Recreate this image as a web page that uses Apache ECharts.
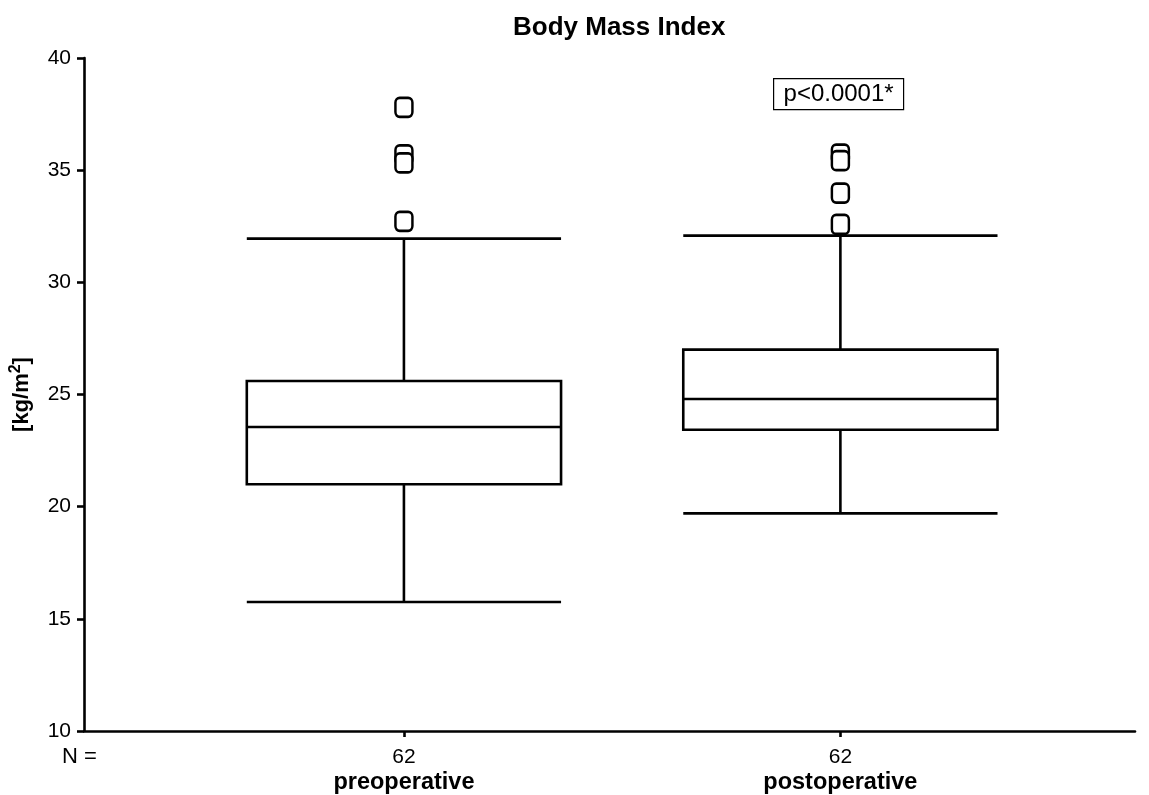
<!DOCTYPE html>
<html>
<head>
<meta charset="utf-8">
<script src="https://cdn.jsdelivr.net/npm/echarts@6/dist/echarts.min.js"></script>
<style>
  html, body { margin: 0; padding: 0; background: #fff; }
  #chart { width: 1149px; height: 795px; }
</style>
</head>
<body>
<div id="chart"></div>
<script>
// Groups and sample sizes
const categories = ['preoperative', 'postoperative'];
const counts = [62, 62];
const groupPos = [1, 2];

// Box plot statistics (kg/m²)
const whiskerLow = [15.75, 19.7];
const quartile1 = [21.0, 23.43];
const medians = [23.55, 24.8];
const quartile3 = [25.6, 27.0];
const whiskerHigh = [31.95, 32.08];

// Outliers per group
const outliersPre = [37.8, 35.68, 35.32, 32.72];
const outliersPost = [35.72, 35.42, 33.98, 32.58];

const pText = 'p<0.0001*';
const FONT = '"Liberation Sans", Arial, sans-serif';
const BOX_W = 0.72;

const boxData = groupPos.map((x, i) => [x, whiskerLow[i], quartile1[i], medians[i], quartile3[i], whiskerHigh[i]]);
const outlierData = []
  .concat(outliersPre.map(v => [groupPos[0], v]))
  .concat(outliersPost.map(v => [groupPos[1], v]));

const lineStyle = { stroke: '#000', lineWidth: 2.6, fill: null };

function renderBox(params, api) {
  const x = api.value(0);
  const lo = api.coord([x, api.value(1)]);
  const b1 = api.coord([x, api.value(2)]);
  const md = api.coord([x, api.value(3)]);
  const b3 = api.coord([x, api.value(4)]);
  const hi = api.coord([x, api.value(5)]);
  const half = api.size([BOX_W, 0])[0] / 2;
  const cx = lo[0];
  const seg = (x1, y1, x2, y2) => ({ type: 'line', shape: { x1, y1, x2, y2 }, style: lineStyle });
  return {
    type: 'group',
    children: [
      seg(cx, lo[1], cx, b1[1]),
      seg(cx, b3[1], cx, hi[1]),
      seg(cx - half, lo[1], cx + half, lo[1]),
      seg(cx - half, hi[1], cx + half, hi[1]),
      { type: 'rect', shape: { x: cx - half, y: b3[1], width: 2 * half, height: b1[1] - b3[1] },
        style: { stroke: '#000', lineWidth: 2.6, fill: '#fff' } },
      seg(cx - half, md[1], cx + half, md[1])
    ]
  };
}

const chart = echarts.init(document.getElementById('chart'));
chart.setOption({
  backgroundColor: '#fff',
  animation: false,
  title: {
    text: 'Body Mass Index',
    left: 508, top: 10,
    textStyle: { fontFamily: FONT, fontSize: 26, fontWeight: 'bold', color: '#000' }
  },
  grid: { left: 84, right: 14, top: 58, bottom: 64, containLabel: false, outerBoundsMode: 'none' },
  xAxis: {
    type: 'value',
    min: 0.267, max: 2.675,
    splitLine: { show: false },
    axisLine: { lineStyle: { color: '#000', width: 2.6 } },
    axisTick: { customValues: groupPos, length: 6, lineStyle: { color: '#000', width: 2.6 } },
    axisLabel: {
      customValues: groupPos,
      margin: 14,
      color: '#000',
      fontFamily: FONT,
      fontSize: 21,
      lineHeight: 25,
      formatter: v => {
        const i = groupPos.indexOf(v);
        return counts[i] + '\n{b|' + categories[i] + '}';
      },
      rich: { b: { fontFamily: FONT, fontSize: 23.5, fontWeight: 'bold', color: '#000', lineHeight: 25 } }
    }
  },
  yAxis: {
    type: 'value',
    min: 10, max: 40, interval: 5,
    name: '{u|[kg/m}{sup|2}{u|]}',
    nameLocation: 'middle',
    nameGap: 49,
    nameRotate: 90,
    nameTextStyle: {
      fontFamily: FONT, fontSize: 22, fontWeight: 'bold', color: '#000',
      rich: {
        u: { fontFamily: FONT, fontSize: 22, fontWeight: 'bold', color: '#000', lineHeight: 26 },
        sup: { fontFamily: FONT, fontSize: 16, fontWeight: 'bold', color: '#000', lineHeight: 26, padding: [0, 0, 12, 0] }
      }
    },
    splitLine: { show: false },
    axisLine: { show: true, lineStyle: { color: '#000', width: 2.6 } },
    axisTick: { show: true, length: 7, lineStyle: { color: '#000', width: 2.6 } },
    axisLabel: { color: '#000', fontFamily: FONT, fontSize: 21, margin: 13 }
  },
  graphic: [
    { type: 'text', left: 62, top: 746,
      style: { text: 'N =', fontFamily: FONT, fontSize: 22, fill: '#000' } },
    { type: 'group', left: 773, top: 78, children: [
      { type: 'rect', shape: { x: 0, y: 0, width: 130, height: 31 },
        style: { fill: '#fff', stroke: '#000', lineWidth: 1.2 } },
      { type: 'text', x: 65, y: 16,
        style: { text: pText, fontFamily: FONT, fontSize: 24, fill: '#000', align: 'center', verticalAlign: 'middle' } }
    ] }
  ],
  series: [
    {
      type: 'custom',
      renderItem: renderBox,
      data: boxData,
      encode: { x: 0, y: [1, 2, 3, 4, 5] },
      z: 2
    },
    {
      type: 'scatter',
      data: outlierData,
      symbol: 'roundRect',
      symbolSize: [17, 19],
      itemStyle: { color: '#fff', borderColor: '#000', borderWidth: 2.6, opacity: 1 },
      z: 3
    }
  ]
});
</script>
</body>
</html>
